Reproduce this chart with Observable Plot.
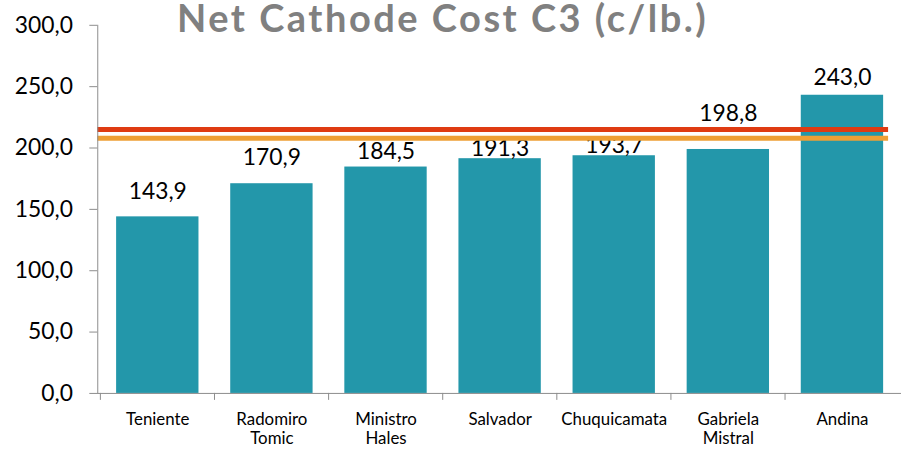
<!DOCTYPE html>
<html>
<head>
<meta charset="utf-8">
<script src="https://cdn.jsdelivr.net/npm/d3@7"></script>
<script src="https://cdn.jsdelivr.net/npm/@observablehq/plot@0.6"></script>
<style>
  html, body { margin: 0; padding: 0; background: #fff; overflow: hidden; width: 901px; height: 452px; }
  #wrap { position: relative; width: 901px; height: 452px; overflow: hidden; }
  #title { position: absolute; left: 177px; top: 3px; font-family: Lato, sans-serif; font-weight: bold; font-size: 38px; line-height: 29px; letter-spacing: 2.5px; color: #808080; white-space: nowrap; z-index: 2; }
  svg { position: absolute; left: 0; top: 0; }
</style>
</head>
<body>
<div id="wrap"><div id="title">Net Cathode Cost C3 (c/lb.)</div></div>
<script>
const categories = ["Teniente", "Radomiro Tomic", "Ministro Hales", "Salvador", "Chuquicamata", "Gabriela Mistral", "Andina"];
const categoryLabels = ["Teniente", "Radomiro\nTomic", "Ministro\nHales", "Salvador", "Chuquicamata", "Gabriela\nMistral", "Andina"];
const values = [143.9, 170.9, 184.5, 191.3, 193.7, 198.8, 243.0];
const referenceValues = [215, 208];
const referenceColors = ["#DF3B12", "#EE9F35"];
const yTicks = [0, 50, 100, 150, 200, 250, 300];

const data = categories.map((c, i) => ({category: c, value: values[i]}));
const refs = referenceValues.map((v, i) => ({value: v, color: referenceColors[i]}));
const labelOf = new Map(categories.map((c, i) => [c, categoryLabels[i]]));
const fmt = d => d.toFixed(1).replace(".", ",");

// label gaps (px) above each bar, as placed in the original
const labelGaps = [18, 19, 8, 3, 3, 29, 10];

const W = 908, ML = 98;
const step = (W - ML) / categories.length;

const chart = Plot.plot({
  width: W,
  height: 452,
  marginLeft: ML,
  marginRight: 0,
  marginTop: 25,
  marginBottom: 56,
  style: {fontFamily: "Lato, sans-serif", background: "transparent"},
  x: {domain: categories, paddingInner: 0.28, paddingOuter: 0.14},
  y: {domain: [0, 300]},
  marks: [
    Plot.barY(data, {x: "category", y: "value", fill: "#2397AA"}),
    ...data.map((d, i) => Plot.text([d], {x: "category", y: "value", text: d => fmt(d.value), lineAnchor: "bottom", dy: -labelGaps[i], fontSize: 23, fill: "#000"})),
    Plot.ruleY(refs, {y: "value", stroke: "color", strokeWidth: 5, insetRight: 13}),
    Plot.frame({anchor: "left", stroke: "#8c8c8c"}),
    Plot.ruleY([0], {stroke: "#8c8c8c"}),
    Plot.ruleX(categories, {x: d => d, y1: 0, y2: 0, dx: -step / 2, insetBottom: -7, stroke: "#8c8c8c"}),
    Plot.axisY({ticks: yTicks, tickFormat: fmt, tickSize: 8, tickPadding: 17, fontSize: 23, stroke: "#8c8c8c", color: "#000", label: null}),
    Plot.axisX({tickSize: 0, tickPadding: 18, fontSize: 17, lineHeight: 1.15, tickFormat: d => labelOf.get(d), label: null, color: "#000"})
  ]
});
document.getElementById("wrap").appendChild(chart);
</script>
</body>
</html>
